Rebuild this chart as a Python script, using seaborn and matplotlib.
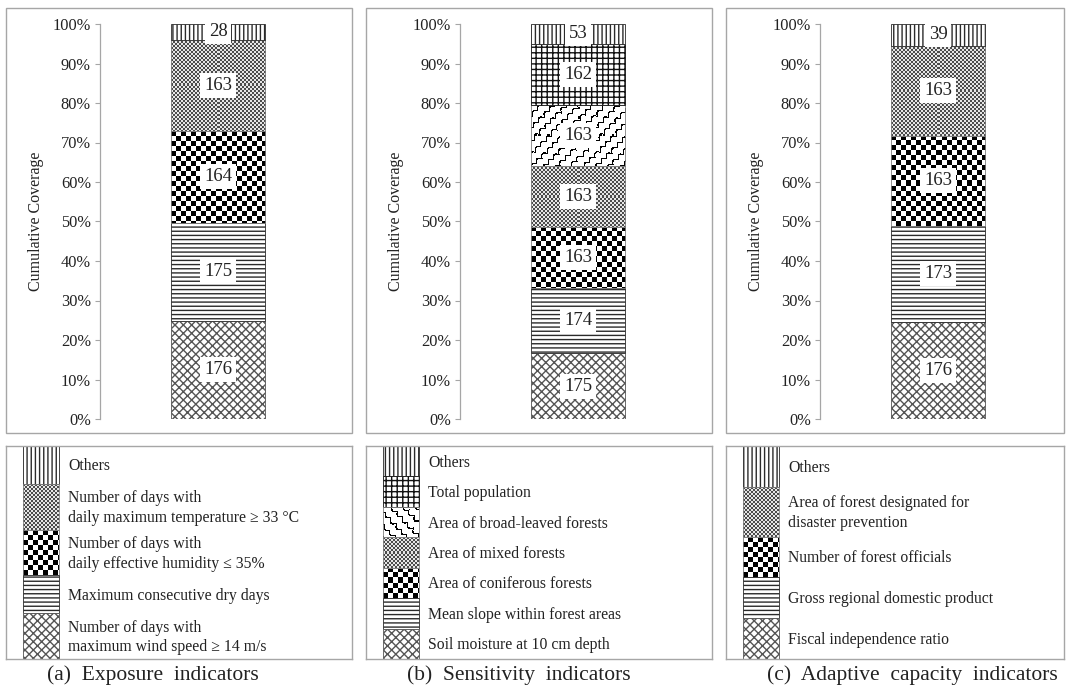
import matplotlib
matplotlib.use("Agg")
import matplotlib.pyplot as plt
import matplotlib.ticker as mticker
from matplotlib.patches import Rectangle
import seaborn as sns
import numpy as np

# ------------------------------------------------------------------
# Data: indicator counts per panel, listed from the bottom segment up
# ------------------------------------------------------------------
exposure_items = [
    "Number of days with\nmaximum wind speed \u2265 14 m/s",
    "Maximum consecutive dry days",
    "Number of days with\ndaily effective humidity \u2264 35%",
    "Number of days with\ndaily maximum temperature \u2265 33 \u00b0C",
    "Others",
]
exposure_counts = [176, 175, 164, 163, 28]

sensitivity_items = [
    "Soil moisture at 10 cm depth",
    "Mean slope within forest areas",
    "Area of coniferous forests",
    "Area of mixed forests",
    "Area of broad-leaved forests",
    "Total population",
    "Others",
]
sensitivity_counts = [175, 174, 163, 163, 163, 162, 53]

adaptive_items = [
    "Fiscal independence ratio",
    "Gross regional domestic product",
    "Number of forest officials",
    "Area of forest designated for\ndisaster prevention",
    "Others",
]
adaptive_counts = [176, 173, 163, 163, 39]

captions = [
    "(a)  Exposure  indicators",
    "(b)  Sensitivity  indicators",
    "(c)  Adaptive  capacity  indicators",
]
y_title = "Cumulative Coverage"

# fill style of each segment (same order as the items)
exposure_fills = ["diamond", "hlines", "checker", "fine", "vlines"]
sensitivity_fills = ["diamond", "hlines", "checker", "fine", "wave", "grid", "vlines"]
adaptive_fills = ["diamond", "hlines", "checker", "fine", "vlines"]

HATCHES = {
    "vlines": ("||||", "#2b2b2b"),
    "hlines": ("----", "#2b2b2b"),
    "diamond": ("xxxx", "#555555"),
    "grid": ("+++", "#111111"),
}
TEXT = "#222222"
FRAME = "#a6a6a6"

sns.set_theme(style="white")
plt.rcParams["font.family"] = ["Liberation Serif", "DejaVu Serif"]
plt.rcParams["hatch.linewidth"] = 1.0

W, H = 1066, 700
fig = plt.figure(figsize=(W / 100, H / 100), dpi=100)


def px_rect(x0, y0, x1, y1):
    """pixel box (top-left origin) -> figure fraction rect"""
    return [x0 / W, 1 - y1 / H, (x1 - x0) / W, (y1 - y0) / H]


def make_texture(kind, w, h):
    yy, xx = np.mgrid[0:h, 0:w]
    if kind == "checker":
        return np.where(((xx // 5) + (yy // 5)) % 2 == 0, 0.0, 1.0)
    if kind == "fine":
        return np.where(((xx // 2) + (yy // 2)) % 2 == 0, 0.3, 0.9)
    # wave: scalloped diagonal lines
    u = (xx + yy) / np.sqrt(2)
    v = (xx - yy) / np.sqrt(2)
    period = 9.0
    d = np.mod(u + 3.2 * np.abs(np.sin(np.pi * v / 7.5)), period)
    return np.where(np.abs(d - period / 2) > 3.7, 0.0, 1.0)


def style_kwargs(fill):
    if fill in HATCHES:
        hatch, col = HATCHES[fill]
        return dict(facecolor="white", edgecolor=col, hatch=hatch, linewidth=0.6)
    return dict(facecolor="none", edgecolor="#808080", linewidth=0.6)


def add_texture(ax, patch, kind):
    bb = patch.get_window_extent()
    w = max(int(round(bb.width)), 1)
    h = max(int(round(bb.height)), 1)
    x0, y0, x1, y1 = patch.get_bbox().extents
    im = ax.imshow(make_texture(kind, w, h), cmap="gray", vmin=0, vmax=1,
                   extent=(x0, x1, y0, y1), aspect="auto",
                   interpolation="nearest", zorder=patch.get_zorder() - 0.1)
    im.set_clip_path(patch)


def draw_column(ax, counts, fills):
    total = float(sum(counts))
    fracs = [c / total for c in counts]
    bottoms = np.concatenate([[0.0], np.cumsum(fracs)[:-1]])
    segs = []
    for frac, base, fill in zip(fracs, bottoms, fills):
        sns.barplot(x=[0], y=[frac], bottom=base, width=1.0, errorbar=None,
                    ax=ax, zorder=2, **style_kwargs(fill))
        segs.append(ax.patches[-1])
    ax.set_xlim(-1.25, 1.25)
    ax.set_ylim(0, 1)
    ax.set_autoscale_on(False)
    for seg, fill in zip(segs, fills):
        if fill not in HATCHES:
            add_texture(ax, seg, fill)
    for val, frac, base in zip(counts, fracs, bottoms):
        ax.text(0, base + frac / 2, str(val), ha="center", va="center",
                fontsize=13.5, color=TEXT, zorder=5,
                bbox=dict(facecolor="white", edgecolor="none", pad=2.8))

    ax.yaxis.set_major_locator(mticker.MultipleLocator(0.1))
    ax.yaxis.set_major_formatter(mticker.PercentFormatter(1.0, decimals=0))
    ax.set_xticks([])
    ax.set_xlabel("")
    ax.set_ylabel(y_title, fontsize=11.5, color=TEXT, labelpad=6)
    ax.tick_params(axis="y", left=True, length=3.6, width=0.8, color=FRAME,
                   pad=3, labelsize=11.8, labelcolor=TEXT)
    for side in ["top", "right", "bottom"]:
        ax.spines[side].set_visible(False)
    ax.spines["left"].set_color(FRAME)
    ax.spines["left"].set_linewidth(0.9)
    ax.patch.set_alpha(0)


def draw_key(lax, items, fills, box_w, box_h):
    order = list(zip(items, fills))[::-1]
    weights = [1.22 if "\n" in label else 1.0 for label, _ in order]
    unit = box_h / sum(weights)
    lax.set_xlim(0, box_w)
    lax.set_ylim(box_h, 0)
    lax.set_autoscale_on(False)
    top = 0.0
    swatches = []
    for (label, fill), wgt in zip(order, weights):
        hgt = wgt * unit
        bar = lax.bar(17, hgt, width=36, bottom=top, align="edge", zorder=2,
                      **style_kwargs(fill))[0]
        swatches.append((bar, fill))
        lax.text(62, top + hgt / 2 + 1.5, label, ha="left", va="center",
                 fontsize=11.3, color=TEXT, linespacing=1.3)
        top += hgt
    for bar, fill in swatches:
        if fill not in HATCHES:
            add_texture(lax, bar, fill)
    lax.set_xticks([])
    lax.set_yticks([])
    for sp in lax.spines.values():
        sp.set_color(FRAME)
        sp.set_linewidth(1.0)


panels = [
    (exposure_items, exposure_counts, exposure_fills),
    (sensitivity_items, sensitivity_counts, sensitivity_fills),
    (adaptive_items, adaptive_counts, adaptive_fills),
]
offsets = [0, 360, 720]
box_right = [352, 712, 1064]

for (items, counts, fills), dx, right, cap in zip(panels, offsets, box_right, captions):
    # frame around the column chart
    fig.add_artist(Rectangle(((6 + dx) / W, 1 - 433 / H), (right - 6 - dx) / W,
                             (433 - 8) / H, transform=fig.transFigure,
                             fill=False, edgecolor=FRAME, linewidth=1.0))
    ax = fig.add_axes(px_rect(100 + dx, 24, 336 + dx, 419))
    draw_column(ax, counts, fills)

    lax = fig.add_axes(px_rect(6 + dx, 446, right, 659))
    draw_key(lax, items, fills, right - 6 - dx, 659 - 446)

    fig.text((47 + dx) / W, 1 - 675 / H, cap, ha="left", va="center",
             fontsize=15.5, color=TEXT)

fig.savefig("out.png", dpi=100)
